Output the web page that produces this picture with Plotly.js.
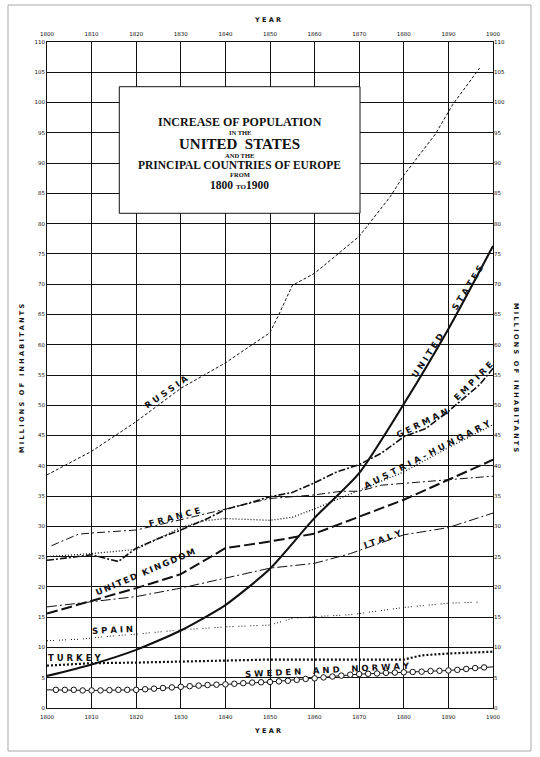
<!DOCTYPE html>
<html><head><meta charset="utf-8">
<script src="https://cdn.plot.ly/plotly-3.0.1.min.js"></script>
<style>html,body{margin:0;padding:0;background:#fff;}</style>
</head><body>
<div id="chart" style="width:540px;height:757px;"></div>
<script>
// ---- DATA (millions of inhabitants) ----
const decadeTicks = [1800,1810,1820,1830,1840,1850,1860,1870,1880,1890,1900];
const valueTicks = [0,5,10,15,20,25,30,35,40,45,50,55,60,65,70,75,80,85,90,95,100,105,110];

const usYears = [1800,1810,1820,1830,1840,1850,1860,1870,1880,1890,1900];
const usPop   = [5.3,7.2,9.6,12.8,17.0,23.0,31.4,38.8,50.2,62.6,76.3];

const russiaYears = [1800,1810,1820,1830,1840,1850,1852,1855,1860,1865,1870,1877,1880,1887,1891,1897];
const russiaPop   = [38.5,42.4,47.3,52.8,57.0,62.0,65.0,69.8,71.8,74.9,77.9,84.5,88.0,94.7,99.7,105.7];

const germanYears = [1800,1807,1810,1816,1820,1825,1830,1836,1840,1845,1850,1855,1860,1865,1870,1875,1880,1885,1890,1893,1897,1900];
const germanPop   = [24.4,25.0,25.3,24.2,26.4,28.0,29.4,31.3,32.8,33.8,34.9,35.6,37.2,39.0,40.2,42.1,44.8,46.2,49.0,50.9,53.4,56.1];

const franceYears = [1801,1807,1810,1820,1830,1840,1850,1860,1866,1870,1875,1890,1900];
const francePop   = [26.8,28.7,28.9,29.4,31.1,32.9,34.6,35.2,35.8,35.8,36.8,37.7,38.3];

const austriaYears = [1800,1810,1820,1830,1835,1840,1850,1855,1860,1867,1870,1880,1890,1900];
const austriaPop   = [25.0,25.5,26.2,29.8,30.9,31.3,31.0,31.5,32.9,35.0,36.0,39.0,43.0,46.8];

const ukYears = [1800,1810,1820,1830,1840,1850,1860,1870,1880,1890,1900];
const ukPop   = [15.6,17.7,19.8,22.1,26.4,27.5,28.8,31.6,34.4,37.7,41.0];

const italyYears = [1800,1810,1820,1830,1840,1850,1860,1868,1880,1890,1900];
const italyPop   = [16.7,17.6,18.4,19.8,21.5,23.1,23.9,25.5,28.6,29.8,32.2];

const spainYears = [1800,1808,1813,1820,1830,1840,1850,1855,1860,1868,1880,1890,1897];
const spainPop   = [11.1,11.4,11.8,12.2,12.9,13.4,13.7,14.8,15.1,15.4,16.6,17.3,17.5];

const turkeyYears = [1800,1810,1820,1840,1850,1880,1884,1890,1900];
const turkeyPop   = [7.0,7.4,7.5,7.8,8.0,8.0,8.7,9.0,9.3];

const swedenYears = [1800,1810,1820,1830,1840,1850,1860,1870,1880,1890,1900];
const swedenPop   = [3.0,2.9,3.0,3.5,3.9,4.3,4.9,5.6,5.9,6.2,6.8];

const swedenMarkYears = [1802,1804,1806,1808,1810,1812,1814,1816,1818,1820,1822,1824,1826,1828,1830,1832,1834,1836,1838,1840,1842,1844,1846,1848,1850,1852,1854,1856,1858,1860,1862,1864,1866,1868,1870,1872,1874,1876,1878,1880,1882,1884,1886,1888,1890,1892,1894,1896,1898];
const swedenMarkPop   = [3.0,3.0,3.0,2.9,2.9,2.9,2.95,3.0,3.0,3.0,3.1,3.2,3.3,3.4,3.5,3.6,3.7,3.8,3.85,3.9,4.0,4.1,4.2,4.25,4.3,4.4,4.5,4.65,4.8,4.9,5.05,5.2,5.35,5.5,5.6,5.65,5.7,5.8,5.85,5.9,5.95,6.0,6.1,6.15,6.2,6.3,6.45,6.6,6.7];

// ---- TRACES ----
const K = '#111';
function ln(x, y, width, dash, extra) {
  return Object.assign({x: x, y: y, type: 'scatter', mode: 'lines', hoverinfo: 'skip', showlegend: false,
    line: {color: K, width: width, dash: dash}}, extra || {});
}
const traces = [
  ln(russiaYears, russiaPop, 1, '3px,2px'),
  ln(franceYears, francePop, 1, '8px,3px,2px,3px'),
  ln(austriaYears, austriaPop, 1.3, '1px,2px'),
  ln(germanYears, germanPop, 1.6, '7px,2px,2px,2px'),
  ln(ukYears, ukPop, 2, '11px,4px'),
  ln(italyYears, italyPop, 1, '10px,3px,2px,3px'),
  ln(spainYears, spainPop, 1, '1px,2px,1px,2px,1px,5px'),
  ln(turkeyYears, turkeyPop, 2.2, '2px,2px'),
  ln(swedenYears, swedenPop, 1, 'solid'),
  {x: swedenMarkYears, y: swedenMarkPop, type: 'scatter', mode: 'markers', hoverinfo: 'skip', showlegend: false,
   marker: {symbol: 'circle', size: 5.5, color: '#fff', line: {color: K, width: 1}}},
  ln(usYears, usPop, 2.1, 'solid', {line: {color: K, width: 2.1, shape: 'spline', smoothing: 0.6}}),
  // helper for the mirrored top / right axes
  {x: [decadeTicks[0]], y: [valueTicks[0]], xaxis: 'x2', yaxis: 'y2', type: 'scatter', mode: 'markers',
   marker: {opacity: 0}, hoverinfo: 'skip', showlegend: false}
];

// ---- LABELS ----
function sp(s, sep) { return s.split('').join(sep); }
const TH = '\u2009';
const lblFont = {family: 'DejaVu Sans, sans-serif', size: 8.5, color: K};
function lab(text, x, y, ang) {
  return {text: '<b>' + text + '</b>', x: x, y: y, xref: 'x', yref: 'y', showarrow: false, textangle: ang,
    xanchor: 'center', yanchor: 'middle', font: lblFont};
}
const serif = 'Liberation Serif, DejaVu Serif, serif';
function tl(text, py, size) {
  return {text: text, x: (239.5 - 47) / 446, y: (708 - py) / 666, xref: 'paper', yref: 'paper',
    xanchor: 'center', yanchor: 'middle', showarrow: false, font: {family: serif, size: size, color: K}};
}
function pl(text, px, py, ang) {
  return {text: text, x: (px - 47) / 446, y: (708 - py) / 666, xref: 'paper', yref: 'paper',
    xanchor: 'center', yanchor: 'middle', showarrow: false, textangle: ang,
    font: {family: 'DejaVu Sans, sans-serif', size: 6.5, color: K}};
}
const millions = '<b>' + sp('MILLIONS', ' ') + '   ' + sp('OF', ' ') + '   ' + sp('INHABITANTS', ' ') + '</b>';
const yearTxt = '<b>' + sp('YEAR', ' ') + '</b>';
const annotations = [
  lab(sp('RUSSIA', ' '), 1826.7, 52.2, -35),
  lab(sp('FRANCE', ' '), 1828.5, 31.6, -15),
  lab('U' + TH + 'N' + TH + 'I' + TH + 'T' + TH + 'E' + TH + 'D  ' + sp('KINGDOM', TH), 1822, 22.4, -23),
  lab(sp('SPAIN', ' '), 1814.6, 12.9, -3),
  lab(sp('TURKEY', ' '), 1806.2, 8.3, 0),
  lab(sp('SWEDEN', ' ') + '    ' + sp('AND', ' ') + '    ' + sp('NORWAY', ' '), 1862.8, 6.3, -3),
  lab(sp('ITALY', ' '), 1875.3, 27.9, -19),
  lab(sp('AUSTRIA-HUNGARY', TH + TH), 1885.4, 41.9, -27),
  lab(sp('GERMAN', ' '), 1884.1, 47.1, -26),
  lab(sp('EMPIRE', ' '), 1895.6, 54.0, -45),
  lab(sp('UNITED', ' '), 1885.4, 58.3, -57),
  lab(sp('STATES', ' '), 1894.2, 69.4, -58),
  // title box
  tl('<b>INCREASE OF POPULATION</b>', 121.7, 12),
  tl('<b>IN THE</b>', 132.7, 6.5),
  tl('<b>UNITED  STATES</b>', 143.6, 15),
  tl('<b>AND THE</b>', 155.3, 6.5),
  tl('<b>PRINCIPAL COUNTRIES OF EUROPE</b>', 165, 11.5),
  tl('<b>FROM</b>', 174.7, 6.5),
  tl('<b>1800 <span style="font-size:7px">TO</span>1900</b>', 185, 11.5),
  // axis titles
  pl(yearTxt, 267, 20, 0),
  pl(yearTxt, 267, 731.5, 0),
  pl(millions, 22, 378, -90),
  pl(millions, 516, 378, 90)
];

const tickFont = {family: 'DejaVu Sans, sans-serif', size: 5.5, color: K};
const xBase = {range: [1800, 1900], tickmode: 'array', tickvals: decadeTicks, ticktext: decadeTicks.map(String),
  tickfont: tickFont, ticks: '', zeroline: false, fixedrange: true};
const yBase = {range: [0, 110], tickmode: 'array', tickvals: valueTicks, ticktext: valueTicks.map(String),
  tickfont: tickFont, ticks: '', zeroline: false, fixedrange: true};

const layout = {
  width: 540, height: 757,
  margin: {l: 47, r: 47, t: 42, b: 49, pad: 0},
  paper_bgcolor: '#fff', plot_bgcolor: '#fff',
  showlegend: false,
  xaxis: Object.assign({}, xBase, {side: 'bottom', showgrid: true, gridcolor: K, gridwidth: 1,
    showline: true, linecolor: K, linewidth: 1, mirror: true, ticklabelstandoff: 3}),
  xaxis2: Object.assign({}, xBase, {side: 'top', overlaying: 'x', anchor: 'y', showgrid: false, showline: false,
    ticklabelstandoff: 4}),
  yaxis: Object.assign({}, yBase, {side: 'left', showgrid: true, gridcolor: K, gridwidth: 1,
    showline: true, linecolor: K, linewidth: 1, mirror: true}),
  yaxis2: Object.assign({}, yBase, {side: 'right', overlaying: 'y', anchor: 'x', showgrid: false, showline: false}),
  shapes: [
    {type: 'rect', xref: 'paper', yref: 'paper', x0: (119.3 - 47) / 446, x1: (360 - 47) / 446,
     y0: (708 - 213.3) / 666, y1: (708 - 86.7) / 666, fillcolor: '#fff', line: {color: K, width: 1}, layer: 'above'},
    {type: 'rect', xref: 'paper', yref: 'paper', x0: (8 - 47) / 446, x1: (531 - 47) / 446,
     y0: (708 - 751) / 666, y1: (708 - 5) / 666, line: {color: '#aaa', width: 1}, layer: 'below'}
  ],
  annotations: annotations
};

Plotly.newPlot('chart', traces, layout, {staticPlot: true, displayModeBar: false});
</script>
</body></html>
